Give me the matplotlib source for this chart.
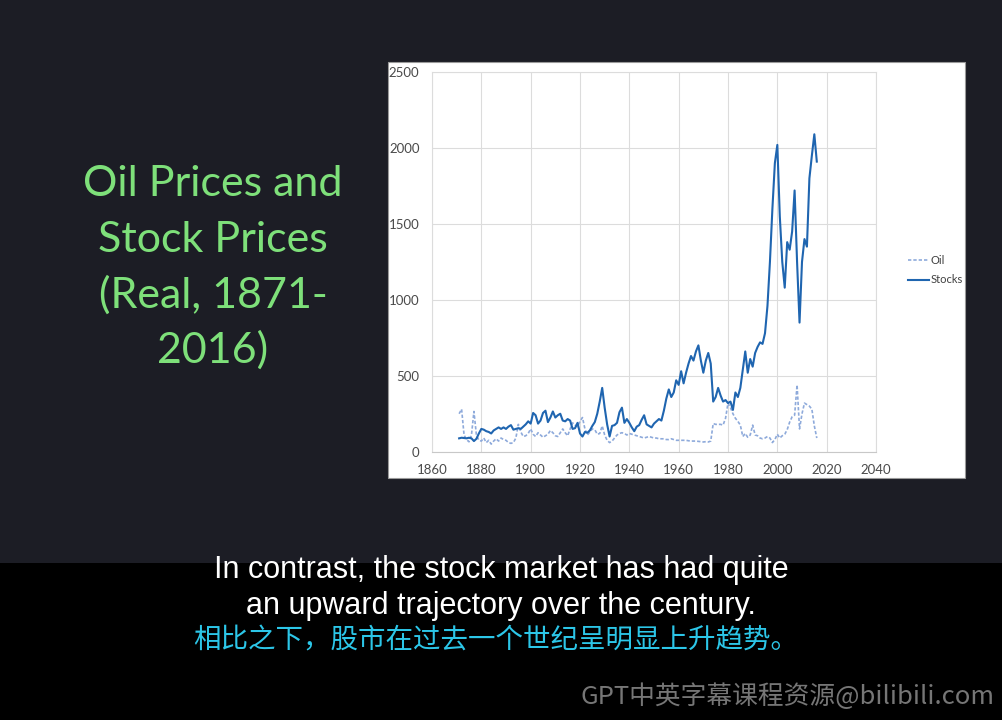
import matplotlib.pyplot as plt
from matplotlib.patches import Rectangle
import numpy as np

# Real stock and oil prices, 1871-2016
years = np.arange(1871, 2017)
stocks = [88, 92, 90, 88, 92, 88, 70, 85, 120, 150,
          145, 135, 130, 120, 140, 150, 160, 150, 160, 150,
          165, 175, 145, 150, 155, 150, 165, 180, 200, 185,
          255, 240, 185, 205, 255, 270, 195, 225, 265, 225,
          240, 250, 205, 200, 215, 205, 150, 155, 190, 120,
          100, 130, 125, 140, 170, 195, 250, 330, 420, 290,
          180, 100, 170, 175, 190, 260, 290, 190, 215, 190,
          160, 135, 165, 175, 210, 240, 180, 170, 160, 185,
          200, 215, 205, 270, 350, 410, 360, 390, 470, 440,
          530, 450, 520, 580, 630, 600, 660, 700, 600, 520,
          600, 650, 580, 330, 360, 420, 370, 330, 340, 320,
          330, 275, 390, 360, 420, 540, 660, 520, 610, 560,
          650, 690, 720, 710, 780, 960, 1250, 1600, 1900, 2020,
          1550, 1250, 1080, 1380, 1330, 1450, 1720, 1250, 850, 1250,
          1400, 1350, 1800, 1950, 2090, 1910]
oil = [250, 280, 110, 80, 65, 110, 265, 110, 75, 70,
       90, 60, 75, 50, 70, 85, 70, 90, 80, 75,
       60, 55, 60, 90, 180, 130, 100, 105, 120, 150,
       115, 100, 125, 110, 95, 105, 115, 140, 125, 105,
       100, 125, 150, 125, 105, 150, 190, 175, 165, 200,
       225, 150, 110, 130, 150, 145, 115, 120, 170, 110,
       75, 60, 70, 90, 110, 120, 125, 120, 110, 120,
       115, 110, 105, 100, 95, 90, 95, 100, 95, 90,
       90, 85, 85, 85, 80, 80, 85, 80, 75, 75,
       75, 75, 75, 72, 70, 70, 70, 68, 66, 64,
       66, 64, 70, 185, 180, 180, 180, 175, 220, 320,
       290, 250, 220, 200, 175, 100, 120, 95, 110, 175,
       110, 105, 90, 85, 90, 100, 90, 60, 80, 115,
       90, 105, 115, 145, 195, 230, 240, 440, 150, 250,
       320, 310, 300, 280, 170, 90]

x_ticks = np.arange(1860, 2041, 20)
y_ticks = np.arange(0, 2501, 500)

title_lines = ['Oil Prices and', 'Stock Prices', '(Real, 1871-', '2016)']
sub_en = ['In contrast, the stock market has had quite',
          'an upward trajectory over the century.']
sub_zh = '相比之下，股市在过去一个世纪呈明显上升趋势。'
watermark = 'GPT中英字幕课程资源@bilibili.com'

W, H = 1002, 720
fig = plt.figure(figsize=(W / 100, H / 100), dpi=100, facecolor='#1c1d25')

# black subtitle band and white chart panel
fig.patches.append(Rectangle((0, 0), 1, (H - 563) / H, transform=fig.transFigure,
                             facecolor='black', edgecolor='none', zorder=-5))
fig.patches.append(Rectangle((388 / W, (H - 478) / H), 577 / W, 416 / H,
                             transform=fig.transFigure, facecolor='white',
                             edgecolor='#9a9a9a', linewidth=0.8, zorder=-5))

ax = fig.add_axes([432 / W, (H - 451.7) / H, 444 / W, 379.7 / H])
ax.set_zorder(2)
ax.set_facecolor('white')
ax.plot(years, oil, color='#8eaadb', lw=1.2, ls=(0, (2, 1.2)), label='Oil')
ax.plot(years, stocks, color='#1f65b0', lw=1.5, label='Stocks')

ax.set_xlim(1860, 2040)
ax.set_ylim(0, 2500)
ax.set_xticks(x_ticks)
ax.set_yticks(y_ticks)
ax.grid(True, color='#dcdcdc', lw=0.8)
ax.set_axisbelow(True)
for side in ['top', 'right', 'left']:
    ax.spines[side].set_color('#dcdcdc')
    ax.spines[side].set_linewidth(0.8)
ax.spines['bottom'].set_color('#c8c8c8')
ax.tick_params(length=0, labelsize=9.5, labelcolor='#4a4a4a', pad=9)
for lab in ax.get_xticklabels() + ax.get_yticklabels():
    lab.set_family('Lato')

leg = ax.legend(loc='center left', bbox_to_anchor=(898 / W, (H - 270) / H),
                bbox_transform=fig.transFigure, frameon=False,
                handlelength=1.9, handletextpad=0.15, labelspacing=0.8,
                prop={'family': 'Lato', 'size': 8})
for t in leg.get_texts():
    t.set_color('#404040')

# slide title
for i, line in enumerate(title_lines):
    fig.text(213 / W, (H - (184 + i * 55.5)) / H, line, color='#7ee07a',
             fontsize=31, family='Lato', ha='center', va='center')

# subtitles
for i, line in enumerate(sub_en):
    fig.text(501 / W, (H - (570 + i * 36)) / H, line, color='white',
             fontsize=22, family='Liberation Sans', ha='center', va='center')
fig.text(496 / W, (H - 641) / H, sub_zh, color='#2cc6e8', fontsize=19.8,
         family=['Noto Sans CJK SC', 'DejaVu Sans'], ha='center', va='center')
fig.text(995 / W, (H - 697) / H, watermark, color='#767676', fontsize=18.5,
         family=['Noto Sans CJK SC', 'DejaVu Sans'], fontweight='light',
         ha='right', va='center')

fig.savefig('out.png', dpi=100, facecolor=fig.get_facecolor())
